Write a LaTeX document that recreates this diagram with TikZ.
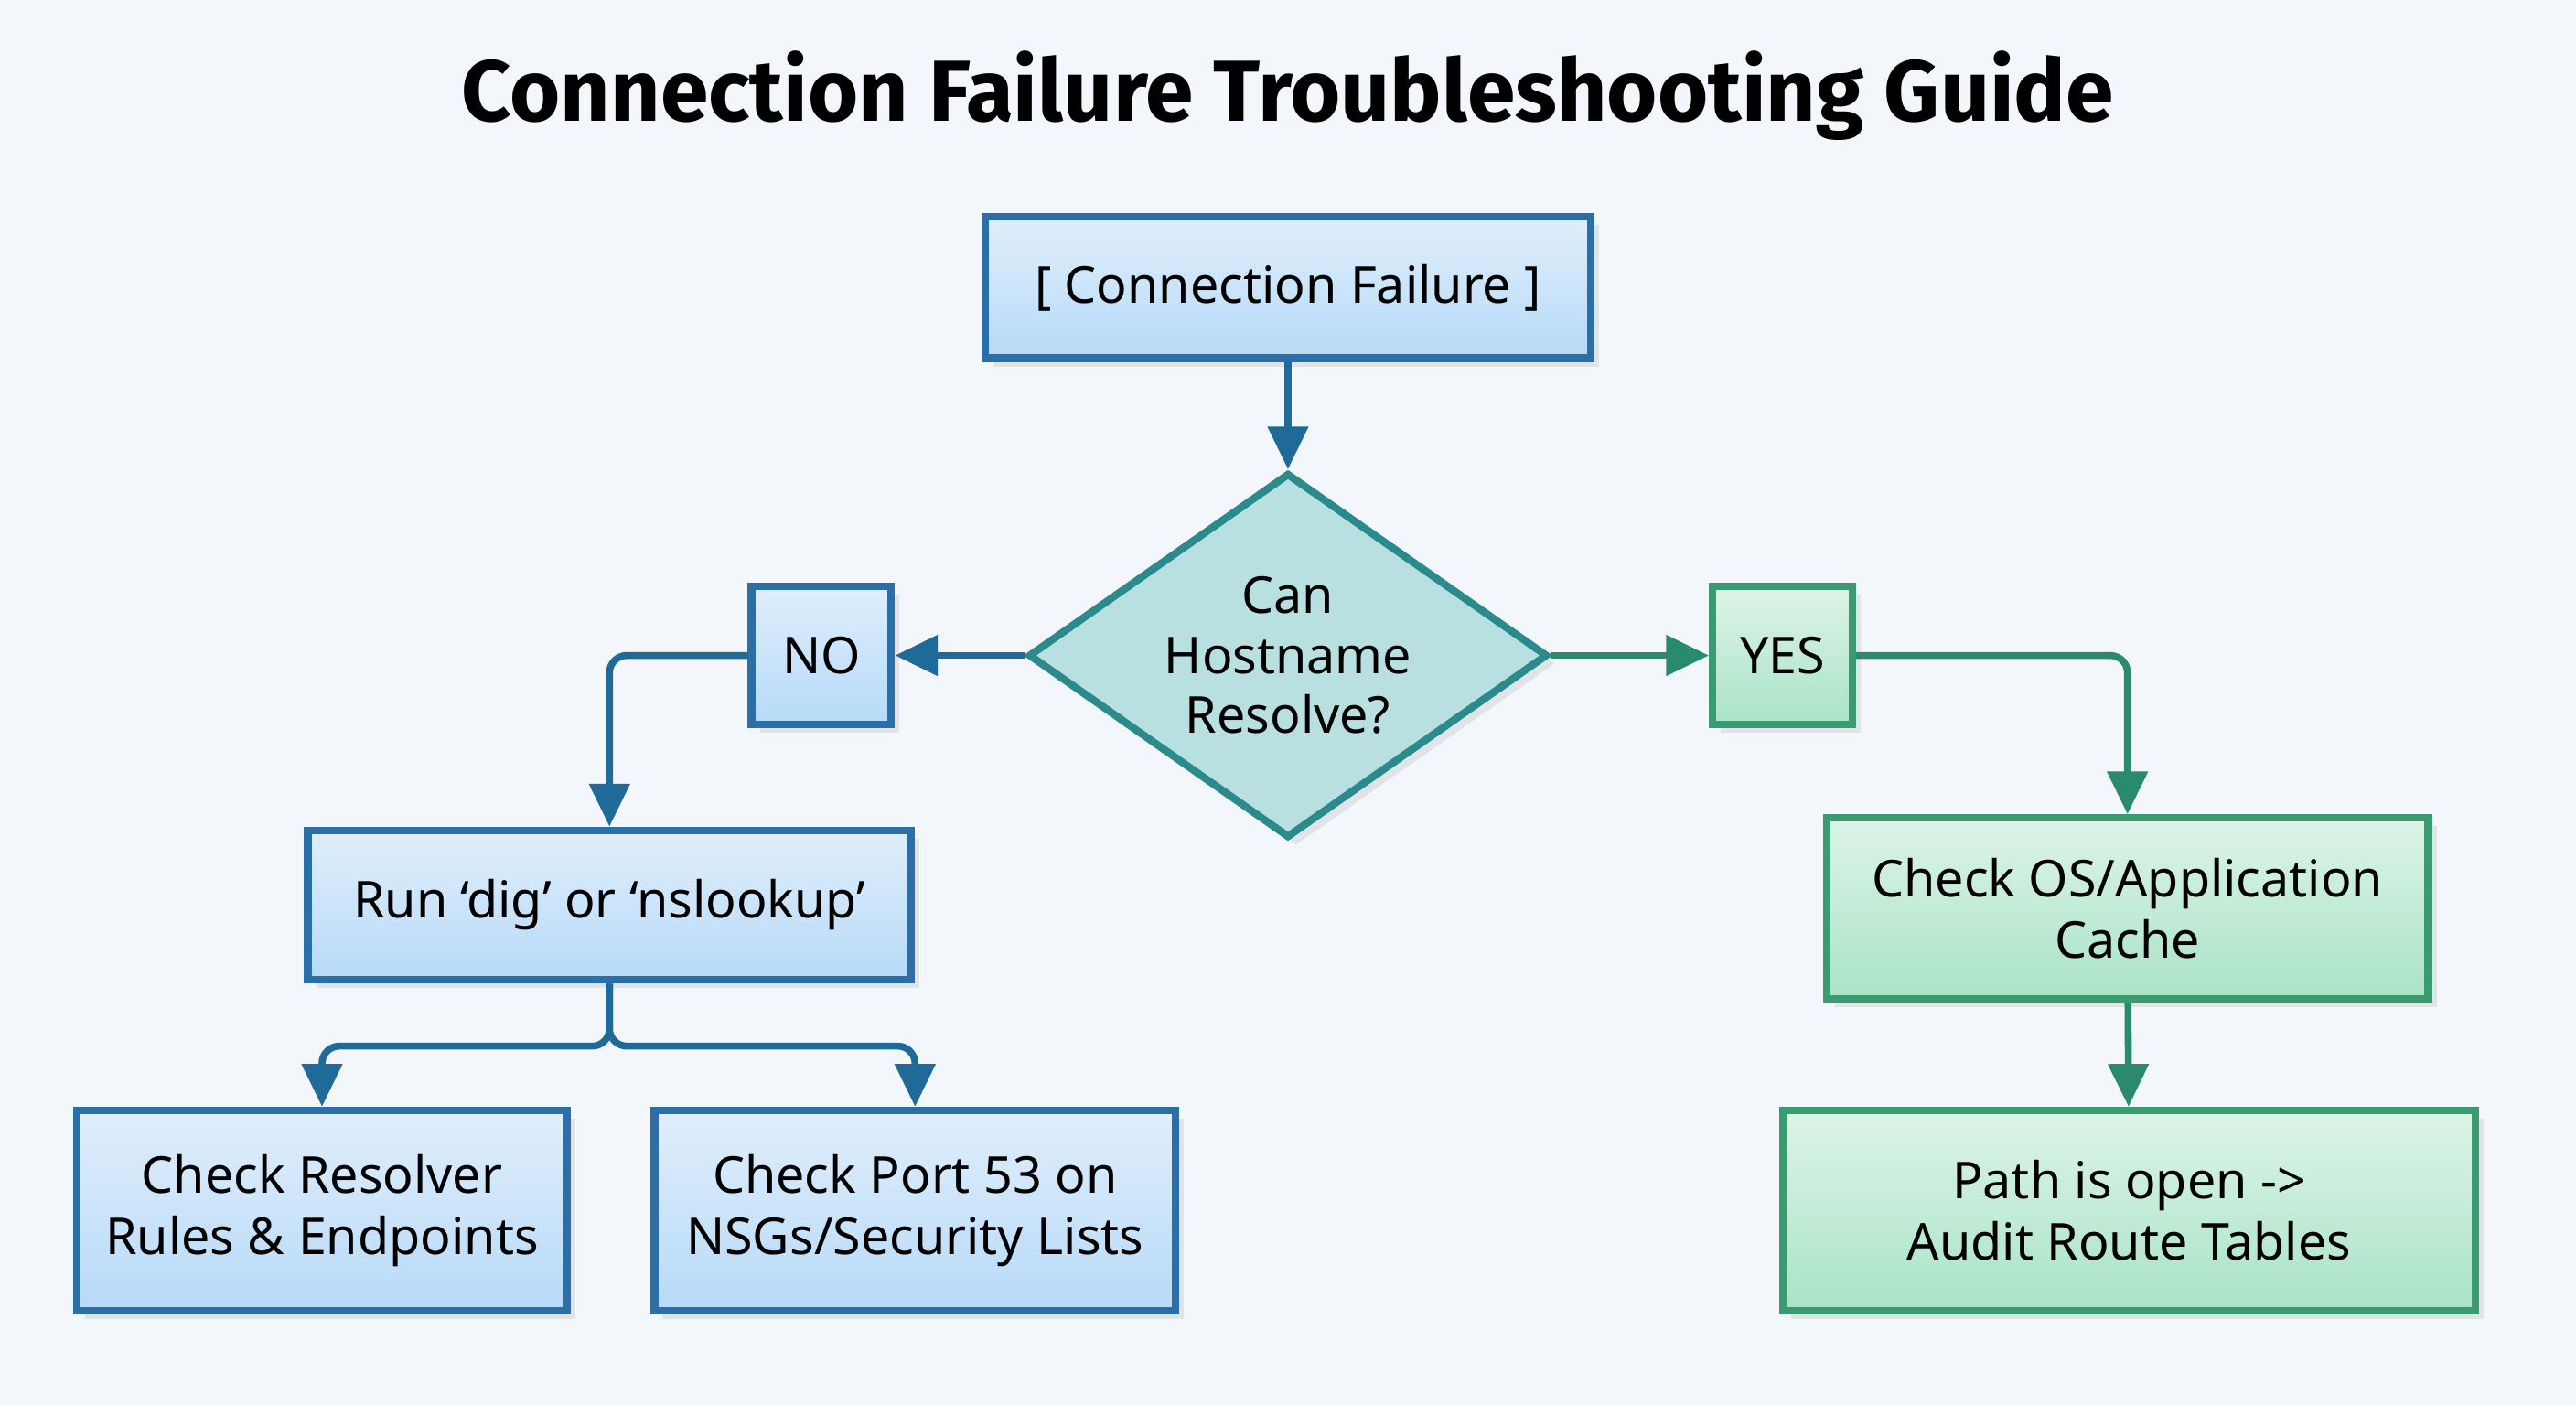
\documentclass[tikz,border=0pt]{standalone}
\usepackage{fontspec}
\setmainfont{Noto Sans}
\newfontfamily\titlefont{Fira Sans}
\usetikzlibrary{positioning,shapes.geometric,arrows.meta,shadows}
\definecolor{bgc}{HTML}{F3F6FA}
\definecolor{blueline}{HTML}{2A6FA8}
\definecolor{bluetop}{HTML}{E0EEFB}
\definecolor{bluebot}{HTML}{B6DAF8}
\definecolor{greenline}{HTML}{3A9A70}
\definecolor{greentop}{HTML}{DDF4E8}
\definecolor{greenbot}{HTML}{A9E3C5}
\definecolor{tealline}{HTML}{2A8A8C}
\definecolor{tealfill}{HTML}{B8E0E0}
\definecolor{bluearrow}{HTML}{1F6A99}
\definecolor{greenarrow}{HTML}{2A8A6C}
\tikzset{
  bluebox/.style={draw=blueline,line width=1.3pt,top color=bluetop,bottom color=bluebot,inner sep=1pt,
    align=center,font=\fontsize{8.8}{10.6}\selectfont,drop shadow={opacity=0.15,shadow xshift=0.5mm,shadow yshift=-0.5mm}},
  greenbox/.style={draw=greenline,line width=1.3pt,top color=greentop,bottom color=greenbot,inner sep=1pt,
    align=center,font=\fontsize{8.8}{10.6}\selectfont,drop shadow={opacity=0.15,shadow xshift=0.5mm,shadow yshift=-0.5mm}},
  bluearr/.style={draw=bluearrow,line width=1.2pt,-{Triangle[length=2.6mm,width=2.4mm]}},
  greenarr/.style={draw=greenarrow,line width=1.2pt,-{Triangle[length=2.6mm,width=2.4mm]}},
}
\begin{document}
\begin{tikzpicture}[x=0.01cm,y=-0.01cm]
  \fill[bgc] (0,0) rectangle (1568,855);
  %TITLE
  \node[font=\titlefont\bfseries\fontsize{15}{18}\selectfont] (title) at (784,58) {Connection Failure Troubleshooting Guide};

  %NODE
  \node[bluebox,minimum width=3.68cm,minimum height=0.86cm] (start) at (784,175) {[ Connection Failure ]};
  \node[diamond,draw=tealline,line width=1.3pt,fill=tealfill,minimum width=3.16cm,minimum height=2.22cm,
    inner sep=-2pt,align=center,font=\fontsize{8.8}{10.4}\selectfont,
    drop shadow={opacity=0.15,shadow xshift=0.5mm,shadow yshift=-0.5mm}] (ask) at (784,399) {Can\\Hostname\\Resolve?};
  \node[bluebox,minimum width=0.85cm,minimum height=0.84cm] (no) at (500,399) {NO};
  \node[greenbox,minimum width=0.85cm,minimum height=0.84cm] (yes) at (1085,399) {YES};
  \node[bluebox,minimum width=3.67cm,minimum height=0.91cm] (dig) at (371,551) {Run ‘dig’ or ‘nslookup’};
  \node[bluebox,minimum width=2.98cm,minimum height=1.22cm] (resolver) at (196,737) {Check Resolver\\Rules \& Endpoints};
  \node[bluebox,minimum width=3.17cm,minimum height=1.22cm] (port) at (557,737) {Check Port 53 on\\NSGs/Security Lists};
  \node[greenbox,minimum width=3.66cm,minimum height=1.10cm] (cache) at (1295,553) {Check OS/Application\\Cache};
  \node[greenbox,minimum width=4.21cm,minimum height=1.22cm] (path) at (1296,737) {Path is open ->\\Audit Route Tables};

  %EDGE
  \draw[bluearr] (start) -- (ask);
  \draw[bluearr] (ask) -- (no);
  \draw[bluearr,rounded corners=3pt] (no.west) -| (dig.north);
  \draw[greenarr] (ask) -- (yes);
  \draw[greenarr,rounded corners=3pt] (yes.east) -| (cache.north);
  \draw[bluearr,rounded corners=3pt] (dig.south) -- ++(0,38) -| (resolver.north);
  \draw[bluearr,rounded corners=3pt] (dig.south) -- ++(0,38) -| (port.north);
  \draw[greenarr] (cache) -- (path);
\end{tikzpicture}
\end{document}
